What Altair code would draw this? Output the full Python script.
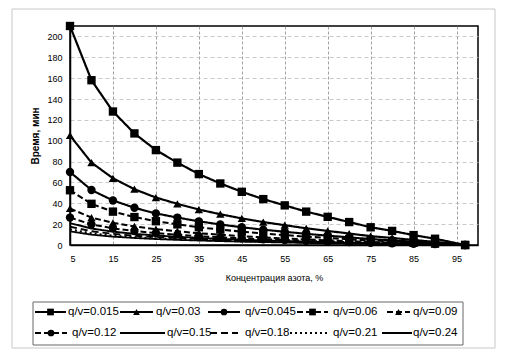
import altair as alt
import pandas as pd

# ---- data ----
conc = [5, 10, 15, 20, 25, 30, 35, 40, 45, 50, 55, 60, 65, 70, 75, 80, 85, 90, 97]
series_names = ["q/v=0.015", "q/v=0.03", "q/v=0.045", "q/v=0.06", "q/v=0.09",
                "q/v=0.12", "q/v=0.15", "q/v=0.18", "q/v=0.21", "q/v=0.24"]
t_0015 = [210, 158, 128, 107, 91, 79, 68, 59, 51, 44, 38, 32, 27, 22, 17, 13.5, 9.5, 6, 0]
t_003 = [105, 79, 64, 53.5, 45.5, 39.5, 34, 29.5, 25.5, 22, 19, 16, 13.5, 11, 8.5, 6.8, 4.8, 3, 0]
t_0045 = [70, 52.7, 42.7, 35.7, 30.3, 26.3, 22.7, 19.7, 17, 14.7, 12.7, 10.7, 9, 7.3, 5.7, 4.5, 3.2, 2, 0]
t_006 = [52.5, 39.5, 32, 26.8, 22.8, 19.8, 17, 14.8, 12.8, 11, 9.5, 8, 6.8, 5.5, 4.3, 3.4, 2.4, 1.5, 0]
t_009 = [35, 26.3, 21.3, 17.8, 15.2, 13.2, 11.3, 9.8, 8.5, 7.3, 6.3, 5.3, 4.5, 3.7, 2.8, 2.3, 1.6, 1, 0]
t_012 = [26.3, 19.8, 16, 13.4, 11.4, 9.9, 8.5, 7.4, 6.4, 5.5, 4.8, 4, 3.4, 2.8, 2.1, 1.7, 1.2, 0.8, 0]
t_015 = [21, 15.8, 12.8, 10.7, 9.1, 7.9, 6.8, 5.9, 5.1, 4.4, 3.8, 3.2, 2.7, 2.2, 1.7, 1.4, 1, 0.6, 0]
t_018 = [17.5, 13.2, 10.7, 8.9, 7.6, 6.6, 5.7, 4.9, 4.3, 3.7, 3.2, 2.7, 2.3, 1.8, 1.4, 1.1, 0.8, 0.5, 0]
t_021 = [15, 11.3, 9.1, 7.6, 6.5, 5.6, 4.9, 4.2, 3.6, 3.1, 2.7, 2.3, 1.9, 1.6, 1.2, 1, 0.7, 0.4, 0]
t_024 = [13.1, 9.9, 8, 6.7, 5.7, 4.9, 4.3, 3.7, 3.2, 2.8, 2.4, 2, 1.7, 1.4, 1.1, 0.8, 0.6, 0.4, 0]
x_ticks = [5, 15, 25, 35, 45, 55, 65, 75, 85, 95]
y_ticks = [0, 20, 40, 60, 80, 100, 120, 140, 160, 180, 200]
x_title = "Концентрация азота, %"
y_title = "Время, мин"

# ---- styles ----
W, H = 408, 219
PLOT_LEFT, PLOT_TOP = 70, 26  # page position of plot area
dashes = [[1, 0], [1, 0], [1, 0], [6, 3], [6, 3], [6, 3], [1, 0], [7, 4], [2, 3], [1, 0]]
widths = [2.2, 1.8, 1.8, 1.8, 1.8, 1.8, 1.6, 1.6, 1.6, 1.0]
marker_series = series_names[:6]
marker_shapes = ["square", "triangle-up", "circle", "square", "triangle-up", "circle"]
FONT = "Liberation Sans"

all_t = [t_0015, t_003, t_0045, t_006, t_009, t_012, t_015, t_018, t_021, t_024]
rows = []
for name, ts in zip(series_names, all_t):
    for c, t in zip(conc, ts):
        rows.append({"conc": c, "time": t, "series": name})
df = pd.DataFrame(rows)

xscale = alt.Scale(domain=[5, 100], nice=False, zero=False)
yscale = alt.Scale(domain=[0, 210], nice=False)
dash_scale = alt.Scale(domain=series_names, range=dashes)
width_scale = alt.Scale(domain=series_names, range=widths)
shape_scale = alt.Scale(domain=marker_series, range=marker_shapes)

xax = alt.Axis(values=x_ticks, title=x_title, ticks=False, labelPadding=9, labelOverlap=False,
               labelFont=FONT, labelFontSize=9, labelColor="black",
               titleFont=FONT, titleFontSize=9, titleFontWeight="normal", titleColor="black",
               titlePadding=10, domainColor="black", domainWidth=1.5,
               gridColor="#888", gridDash=[3, 2], gridWidth=0.8)
yax = alt.Axis(values=y_ticks, title=y_title, ticks=False, labelPadding=8, labelOverlap=False,
               labelFont=FONT, labelFontSize=9, labelColor="black",
               titleFont=FONT, titleFontSize=10, titleFontWeight="bold", titleColor="black",
               titlePadding=6, domainColor="black", domainWidth=1.5,
               gridColor="#bbb", gridDash=[4, 3], gridWidth=0.8)

lines = alt.Chart(df).mark_line(color="black").encode(
    x=alt.X("conc:Q", scale=xscale, axis=xax),
    y=alt.Y("time:Q", scale=yscale, axis=yax),
    detail="series:N",
    strokeDash=alt.StrokeDash("series:N", scale=dash_scale, legend=None),
    strokeWidth=alt.StrokeWidth("series:N", scale=width_scale, legend=None),
)
points = alt.Chart(df).transform_filter(
    alt.FieldOneOfPredicate(field="series", oneOf=marker_series)
).mark_point(filled=True, color="black", opacity=1, size=70).encode(
    x=alt.X("conc:Q", scale=xscale, axis=xax),
    y=alt.Y("time:Q", scale=yscale, axis=yax),
    shape=alt.Shape("series:N", scale=shape_scale, legend=None),
)
main = alt.layer(lines, points)

# ---- hand-built legend and frames, in pixel space ----
line_start = [35, 120, 208, 297, 387, 35, 120, 210, 290, 382]
line_end = [66, 153, 240, 328, 410, 67, 165, 238, 330, 412]
label_start = [68, 156, 245, 333, 413, 72, 167, 245, 333, 413]
row_y = [312, 333]
leg_rows = []
for i, name in enumerate(series_names):
    leg_rows.append({
        "series": name,
        "x0": line_start[i] - PLOT_LEFT,
        "x1": line_end[i] - PLOT_LEFT,
        "xm": (line_start[i] + line_end[i]) / 2 - PLOT_LEFT,
        "xl": label_start[i] - PLOT_LEFT,
        "y": row_y[i // 5] - PLOT_TOP,
    })
leg = pd.DataFrame(leg_rows)
px = alt.Scale(domain=[0, W], range=[0, W], nice=False, zero=False)
py = alt.Scale(domain=[0, H], range=[0, H], nice=False, zero=False)

frames = pd.DataFrame([
    {"x0": 12 - PLOT_LEFT, "x1": 495 - PLOT_LEFT, "y0": 9 - PLOT_TOP, "y1": 348 - PLOT_TOP, "kind": "outer"},
    {"x0": 33 - PLOT_LEFT, "x1": 463 - PLOT_LEFT, "y0": 302 - PLOT_TOP, "y1": 345 - PLOT_TOP, "kind": "legend"},
])
frame_marks = alt.Chart(frames).mark_rect(fillOpacity=0, strokeWidth=1).encode(
    x=alt.X("x0:Q", scale=px, axis=None), x2="x1:Q",
    y=alt.Y("y0:Q", scale=py, axis=None), y2="y1:Q",
    stroke=alt.Stroke("kind:N", scale=alt.Scale(domain=["outer", "legend"], range=["#c8c8c8", "#666"]), legend=None),
)
leg_lines = alt.Chart(leg).mark_rule(color="black").encode(
    x=alt.X("x0:Q", scale=px, axis=None), x2="x1:Q",
    y=alt.Y("y:Q", scale=py, axis=None),
    strokeDash=alt.StrokeDash("series:N", scale=dash_scale, legend=None),
    strokeWidth=alt.StrokeWidth("series:N", scale=width_scale, legend=None),
)
leg_points = alt.Chart(leg).transform_filter(
    alt.FieldOneOfPredicate(field="series", oneOf=marker_series)
).mark_point(filled=True, color="black", opacity=1, size=45).encode(
    x=alt.X("xm:Q", scale=px, axis=None),
    y=alt.Y("y:Q", scale=py, axis=None),
    shape=alt.Shape("series:N", scale=shape_scale, legend=None),
)
leg_text = alt.Chart(leg).mark_text(align="left", baseline="middle", font=FONT,
                                     fontSize=11.5, color="black").encode(
    x=alt.X("xl:Q", scale=px, axis=None),
    y=alt.Y("y:Q", scale=py, axis=None),
    text="series:N",
)
legend = alt.layer(frame_marks, leg_lines, leg_points, leg_text)

chart = alt.layer(main, legend).resolve_scale(
    x="independent", y="independent", strokeDash="independent",
    strokeWidth="independent", shape="independent", stroke="independent",
).properties(
    width=W, height=H,
    autosize=alt.AutoSizeParams(type="none"),
    padding={"left": 62, "top": 18, "right": 20, "bottom": 105},
    background="white",
).configure_view(stroke="black", strokeWidth=1.5)

chart.save("out.html", embed_options={"renderer": "svg", "actions": False})
